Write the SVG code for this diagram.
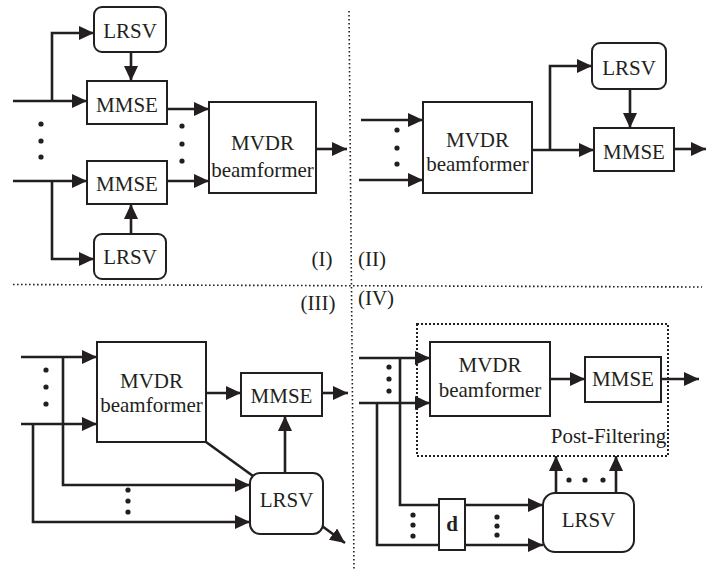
<svg xmlns="http://www.w3.org/2000/svg" width="716" height="570" viewBox="0 0 716 570">
<style>
.box{fill:#fff;stroke:#231f20;stroke-width:2}
.c{fill:none;stroke:#231f20;stroke-width:2.6;marker-end:url(#ah)}
.l{fill:none;stroke:#231f20;stroke-width:2.6}
.sep{fill:none;stroke:#231f20;stroke-width:1.6;stroke-dasharray:1.6 2.4}
.dr{fill:none;stroke:#231f20;stroke-width:2;stroke-dasharray:2 2}
text{font-family:'Liberation Serif','Times New Roman',Times,'DejaVu Serif',serif;font-size:21px;fill:#231f20;text-anchor:middle}
.dot{fill:#231f20}
</style>
<defs>
<marker id="ah" markerUnits="userSpaceOnUse" markerWidth="15" markerHeight="14" refX="15" refY="7" orient="auto">
<path d="M0,0 L15,7 L0,14 z" fill="#231f20"/>
</marker>
</defs>
<g id="separators">
<path class="sep" d="M349,11 L354,570"/>
<path class="sep" d="M13,284.5 L702,287"/>
</g>
<g id="connectors">
<path class="c" d="M13,101 H87"/>
<path class="c" d="M52,101 V33 H94"/>
<path class="c" d="M131,52 V81"/>
<path class="c" d="M167,109 H209"/>
<path class="c" d="M13,181 H87"/>
<path class="c" d="M52,181 V259 H94"/>
<path class="c" d="M131,234 V204"/>
<path class="c" d="M167,181 H209"/>
<path class="c" d="M316,149 H347"/>
<path class="c" d="M361,120 H423"/>
<path class="c" d="M359,180 H423"/>
<path class="c" d="M532,150 H594"/>
<path class="c" d="M550,150 V66 H592"/>
<path class="c" d="M630,89 V128"/>
<path class="c" d="M674,149 H706"/>
<path class="c" d="M21,357 H97"/>
<path class="c" d="M63,357 V485 H250"/>
<path class="c" d="M21,424 H97"/>
<path class="c" d="M33,424 V522 H250"/>
<path class="c" d="M206,393 H241"/>
<path class="c" d="M322,393 H348"/>
<path class="c" d="M285,473 V416"/>
<path class="l" d="M206,442 L253,476"/>
<path class="c" d="M322,526 L345,543"/>
<path class="c" d="M359,358 H430"/>
<path class="c" d="M400,358 V505 H543"/>
<path class="c" d="M359,403 H430"/>
<path class="c" d="M377,403 V545 H543"/>
<path class="c" d="M550,379 H585"/>
<path class="c" d="M661,379 H699"/>
<path class="c" d="M556,493 V456"/>
<path class="c" d="M616,493 V456"/>
</g>
<g id="dots">
<circle class="dot" cx="41" cy="124" r="2.6"/><circle class="dot" cx="41" cy="141" r="2.6"/><circle class="dot" cx="41" cy="157" r="2.6"/>
<circle class="dot" cx="182" cy="126" r="2.6"/><circle class="dot" cx="182" cy="144" r="2.6"/><circle class="dot" cx="182" cy="161" r="2.6"/>
<circle class="dot" cx="397" cy="130" r="2.6"/><circle class="dot" cx="397" cy="148" r="2.6"/><circle class="dot" cx="397" cy="164" r="2.6"/>
<circle class="dot" cx="46" cy="370" r="2.6"/><circle class="dot" cx="46" cy="387" r="2.6"/><circle class="dot" cx="46" cy="404" r="2.6"/>
<circle class="dot" cx="128" cy="490" r="2.6"/><circle class="dot" cx="128" cy="501" r="2.6"/><circle class="dot" cx="128" cy="512" r="2.6"/>
<circle class="dot" cx="389" cy="367" r="2.6"/><circle class="dot" cx="389" cy="379" r="2.6"/><circle class="dot" cx="389" cy="391" r="2.6"/>
<circle class="dot" cx="413" cy="515" r="2.6"/><circle class="dot" cx="413" cy="525" r="2.6"/><circle class="dot" cx="413" cy="536" r="2.6"/>
<circle class="dot" cx="497" cy="517" r="2.6"/><circle class="dot" cx="497" cy="526" r="2.6"/><circle class="dot" cx="497" cy="535" r="2.6"/>
<circle class="dot" cx="569" cy="480" r="2.6"/><circle class="dot" cx="585" cy="480" r="2.6"/><circle class="dot" cx="603" cy="480" r="2.6"/>
</g>
<g font-family="Liberation Serif, Times New Roman, serif">
<g id="p1-lrsv-top"><rect class="box" x="94" y="7" width="72" height="45" rx="8"/><text x="130" y="38">LRSV</text></g>
<g id="p1-mmse-top"><rect class="box" x="87" y="81" width="80" height="43"/><text x="127" y="112">MMSE</text></g>
<g id="p1-mmse-bot"><rect class="box" x="87" y="161" width="80" height="43"/><text x="127" y="191">MMSE</text></g>
<g id="p1-lrsv-bot"><rect class="box" x="94" y="234" width="72" height="45" rx="8"/><text x="130" y="264">LRSV</text></g>
<g id="p1-mvdr"><rect class="box" x="209" y="102" width="107" height="91"/><text x="262.5" y="150">MVDR</text><text x="262.5" y="177">beamformer</text></g>
<g id="p1-label"><text x="322" y="266">(I)</text></g>
<g id="p2-mvdr"><rect class="box" x="423" y="102" width="109" height="91"/><text x="477.5" y="147">MVDR</text><text x="477.5" y="171">beamformer</text></g>
<g id="p2-lrsv"><rect class="box" x="592" y="43" width="74" height="46" rx="8"/><text x="629" y="75">LRSV</text></g>
<g id="p2-mmse"><rect class="box" x="594" y="128" width="80" height="43"/><text x="634" y="159">MMSE</text></g>
<g id="p2-label"><text x="372" y="266">(II)</text></g>
<g id="p3-label"><text x="318" y="310">(III)</text></g>
<g id="p3-mvdr"><rect class="box" x="97" y="342" width="109" height="100"/><text x="151.5" y="388">MVDR</text><text x="151.5" y="412">beamformer</text></g>
<g id="p3-mmse"><rect class="box" x="241" y="373" width="81" height="43"/><text x="281.5" y="403">MMSE</text></g>
<g id="p3-lrsv"><rect class="box" x="250" y="473" width="73" height="61" rx="10"/><text x="286.5" y="507">LRSV</text></g>
<g id="p4-label"><text x="376" y="305">(IV)</text></g>
<g id="p4-postfilter"><rect class="dr" x="417" y="324" width="251" height="132"/><text x="608.5" y="443">Post-Filtering</text></g>
<g id="p4-mvdr"><rect class="box" x="430" y="342" width="120" height="74"/><text x="490" y="372">MVDR</text><text x="490" y="397">beamformer</text></g>
<g id="p4-mmse"><rect class="box" x="585" y="357" width="76" height="45"/><text x="623" y="386">MMSE</text></g>
<g id="p4-d"><rect class="box" x="439" y="499" width="26" height="51"/><text x="452" y="531" font-weight="bold">d</text></g>
<g id="p4-lrsv"><rect class="box" x="543" y="493" width="91" height="59" rx="12"/><text x="588.5" y="527">LRSV</text></g>
</g>
</svg>
